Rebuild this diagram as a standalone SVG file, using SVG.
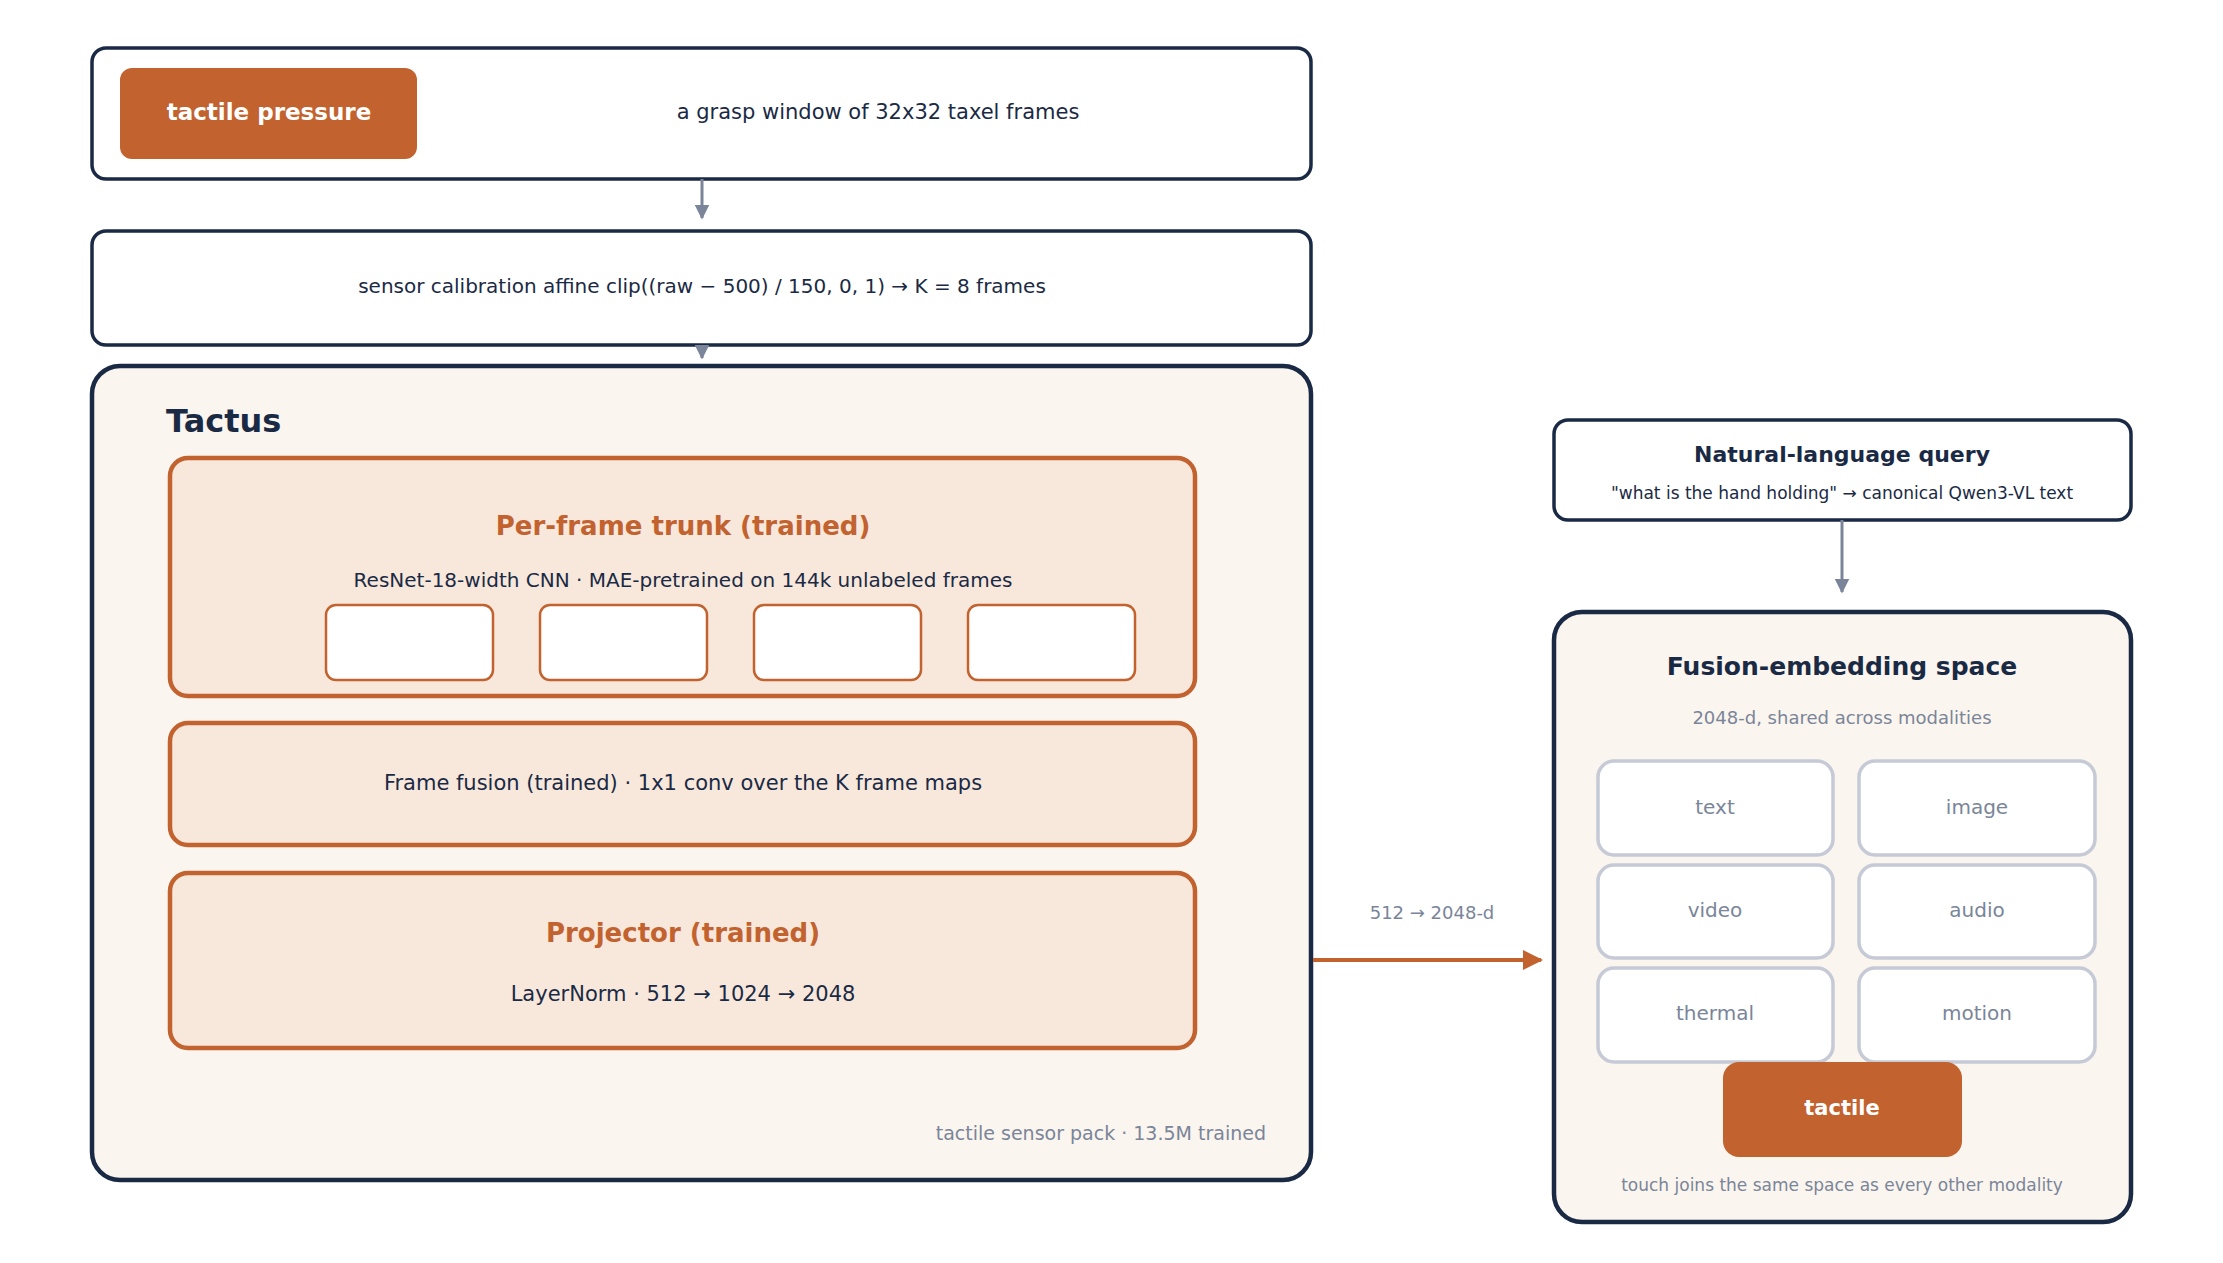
<svg xmlns="http://www.w3.org/2000/svg" width="2223" height="1263" viewBox="0 0 2223 1263">
<style>
text{font-family:"DejaVu Sans",sans-serif;text-anchor:middle;dominant-baseline:central}
.nav{fill:#fff;stroke:#1b2a44;stroke-width:3.5}
.panel{fill:#faf5ee;stroke:#1b2a44;stroke-width:4.5}
.or{fill:#f8e8dc;stroke:#c2622f;stroke-width:4.5}
.cell{fill:#fff;stroke:#c2622f;stroke-width:2.5}
.mod{fill:#fff;stroke:#c5cad6;stroke-width:3.5}
.dk{fill:#1b2a44}
.gr{fill:#7a8599}
.ot{fill:#c2622f;font-weight:bold;font-size:26px}
</style>
<defs>
<marker id="ag" viewBox="0 0 10 10" refX="9" refY="5" markerWidth="5" markerHeight="5" orient="auto"><path d="M0,0L10,5L0,10z" fill="#7a8599"/></marker>
<marker id="ao" viewBox="0 0 10 10" refX="9" refY="5" markerWidth="5" markerHeight="5" orient="auto"><path d="M0,0L10,5L0,10z" fill="#c2622f"/></marker>
</defs>
<g id="input">
<rect class="nav" x="92" y="48" width="1219" height="131" rx="14"/>
<rect x="120" y="68" width="297" height="91" rx="12" fill="#c2622f"/>
<text x="269" y="112" fill="#fff" font-weight="bold" font-size="23">tactile pressure</text>
<text x="878" y="112" class="dk" font-size="21">a grasp window of 32x32 taxel frames</text>
</g>
<g id="calib">
<rect class="nav" x="92" y="231" width="1219" height="114" rx="14"/>
<text x="702" y="286" class="dk" font-size="20">sensor calibration affine   clip((raw − 500) / 150, 0, 1)   →   K = 8 frames</text>
</g>
<g id="tactus">
<rect class="panel" x="92" y="366" width="1219" height="814" rx="28"/>
<text x="166" y="421" class="dk" font-weight="bold" font-size="32" style="text-anchor:start">Tactus</text>
<text x="1266" y="1133" class="gr" font-size="19" style="text-anchor:end">tactile sensor pack  ·  13.5M trained</text>
</g>
<g id="trunk">
<rect class="or" x="170" y="458" width="1025" height="238" rx="18"/>
<text x="683" y="526" class="ot">Per-frame trunk  (trained)</text>
<text x="683" y="580" class="dk" font-size="20">ResNet-18-width CNN  ·  MAE-pretrained on 144k unlabeled frames</text>
<rect class="cell" x="326" y="605" width="167" height="75" rx="10"/>
<rect class="cell" x="540" y="605" width="167" height="75" rx="10"/>
<rect class="cell" x="754" y="605" width="167" height="75" rx="10"/>
<rect class="cell" x="968" y="605" width="167" height="75" rx="10"/>
</g>
<g id="fusion">
<rect class="or" x="170" y="723" width="1025" height="122" rx="18"/>
<text x="683" y="783" class="dk" font-size="21">Frame fusion  (trained)   ·   1x1 conv over the K frame maps</text>
</g>
<g id="projector">
<rect class="or" x="170" y="873" width="1025" height="175" rx="18"/>
<text x="683" y="933" class="ot">Projector  (trained)</text>
<text x="683" y="994" class="dk" font-size="21">LayerNorm  ·  512 → 1024 → 2048</text>
</g>
<g id="query">
<rect class="nav" x="1554" y="420" width="577" height="100" rx="14"/>
<text x="1842" y="454" class="dk" font-weight="bold" font-size="22">Natural-language query</text>
<text x="1842" y="493" class="dk" font-size="17">"what is the hand holding"  →  canonical Qwen3-VL text</text>
</g>
<g id="space">
<rect class="panel" x="1554" y="612" width="577" height="610" rx="28"/>
<text x="1842" y="666" class="dk" font-weight="bold" font-size="25">Fusion-embedding space</text>
<text x="1842" y="717" class="gr" font-size="18">2048-d, shared across modalities</text>
<g font-size="20">
<rect class="mod" x="1598" y="761" width="235" height="94" rx="16"/><text x="1715" y="807" class="gr" font-size="20">text</text>
<rect class="mod" x="1859" y="761" width="236" height="94" rx="16"/><text x="1977" y="807" class="gr" font-size="20">image</text>
<rect class="mod" x="1598" y="865" width="235" height="93" rx="16"/><text x="1715" y="910" class="gr" font-size="20">video</text>
<rect class="mod" x="1859" y="865" width="236" height="93" rx="16"/><text x="1977" y="910" class="gr" font-size="20">audio</text>
<rect class="mod" x="1598" y="968" width="235" height="94" rx="16"/><text x="1715" y="1013" class="gr" font-size="20">thermal</text>
<rect class="mod" x="1859" y="968" width="236" height="94" rx="16"/><text x="1977" y="1013" class="gr" font-size="20">motion</text>
</g>
<rect x="1723" y="1062" width="239" height="95" rx="16" fill="#c2622f"/>
<text x="1842" y="1108" fill="#fff" font-weight="bold" font-size="21">tactile</text>
<text x="1842" y="1185" class="gr" font-size="17">touch joins the same space as every other modality</text>
</g>
<g id="connectors" fill="none">
<line x1="702" y1="179" x2="702" y2="218" stroke="#7a8599" stroke-width="3" marker-end="url(#ag)"/>
<line x1="702" y1="345" x2="702" y2="358" stroke="#7a8599" stroke-width="3" marker-end="url(#ag)"/>
<line x1="1842" y1="520" x2="1842" y2="592" stroke="#7a8599" stroke-width="3" marker-end="url(#ag)"/>
<line x1="1313" y1="960" x2="1541" y2="960" stroke="#c2622f" stroke-width="4" marker-end="url(#ao)"/>
<text x="1432" y="912" fill="#7a8599" stroke="none" font-size="18">512 → 2048-d</text>
</g>
</svg>
